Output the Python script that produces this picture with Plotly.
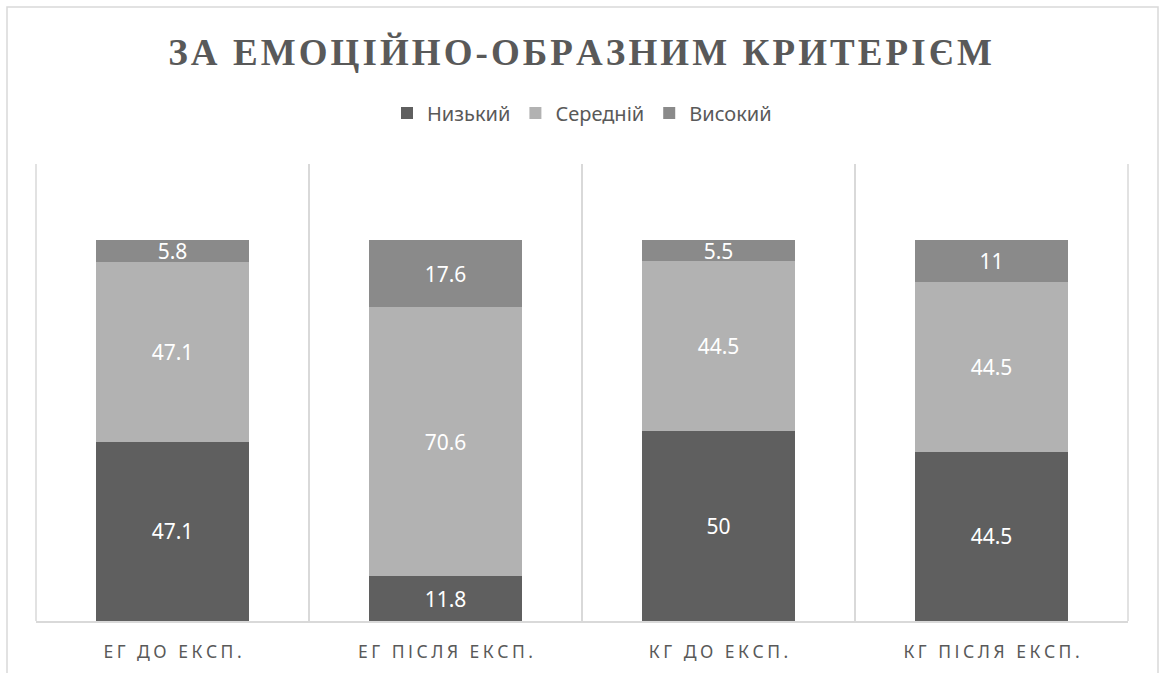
import plotly.graph_objects as go

categories = ["ЕГ ДО ЕКСП.", "ЕГ ПІСЛЯ ЕКСП.", "КГ ДО ЕКСП.", "КГ ПІСЛЯ ЕКСП."]
series_names = ["Низький", "Середній", "Високий"]
low = [47.1, 11.8, 50, 44.5]
mid = [47.1, 70.6, 44.5, 44.5]
high = [5.8, 17.6, 5.5, 11]
title_text = "ЗА ЕМОЦІЙНО-ОБРАЗНИМ КРИТЕРІЄМ"

colors = ["#5f5f5f", "#b2b2b2", "#8a8a8a"]
GRID = "#d9d9d9"

HS = "\u200a"  # hair space for letter spacing


def spaced(s, sep=HS):
    return sep.join(list(s))


W, H = 1160, 673
L, R, T, B = 36, 1160 - 1128, 164, 673 - 621
pw, ph = W - L - R, H - T - B

fig = go.Figure()
for name, vals, col in zip(series_names, [low, mid, high], colors):
    fig.add_trace(go.Bar(
        name=name,
        x=categories,
        y=vals,
        marker=dict(color=col, line=dict(width=0)),
        text=[f"{v:g}" for v in vals],
        textposition="inside",
        insidetextanchor="middle",
        textfont=dict(color="white", size=21, family="Noto Sans"),
        hoverinfo="skip",
    ))

fig.update_layout(
    width=W, height=H,
    barmode="stack",
    bargap=0.44,
    margin=dict(l=L, r=R, t=T, b=B, autoexpand=False),
    paper_bgcolor="white",
    plot_bgcolor="white",
    uniformtext=dict(minsize=21, mode="show"),
    title=dict(
        text="<b>" + spaced(title_text, HS) + "</b>",
        x=0.5, xanchor="center",
        y=1 - 52 / H, yanchor="middle", yref="container",
        font=dict(family="Liberation Serif", size=37, color="#595959"),
    ),
    legend=dict(
        orientation="h",
        x=0.5, xanchor="center",
        y=(621 - 113) / ph, yanchor="middle",
        font=dict(family="Noto Sans", size=20, color="#595959"),
        itemclick=False,
        traceorder="normal",
    ),
    showlegend=True,
    xaxis=dict(
        type="category",
        tickson="boundaries",
        showgrid=True,
        gridcolor=GRID,
        gridwidth=1.5,
        showline=True,
        linecolor=GRID,
        linewidth=2,
        ticks="",
        tickvals=categories,
        ticktext=[spaced(c, HS + HS) for c in categories],
        tickfont=dict(family="Noto Sans", size=17.5, color="#595959"),
        ticklabelstandoff=14,
        automargin=False,
        range=[-0.5, 3.5],
        fixedrange=True,
    ),
    yaxis=dict(
        range=[0, 120],
        showgrid=False,
        showline=False,
        zeroline=False,
        showticklabels=False,
        automargin=False,
        fixedrange=True,
    ),
)

# outer category boundary gridlines (left and right edges of the plot area)
for xp in (0, 1):
    fig.add_shape(
        type="line", xref="paper", yref="paper",
        x0=xp, x1=xp, y0=0, y1=1,
        line=dict(color=GRID, width=1.5),
        layer="below",
    )

# chart-area border
fig.add_shape(
    type="rect", xref="paper", yref="paper",
    x0=(7 - L) / pw, x1=(1158 - L) / pw,
    y0=(621 - 690) / ph, y1=(621 - 7) / ph,
    line=dict(color=GRID, width=1.5),
    fillcolor="rgba(0,0,0,0)",
    layer="below",
)

fig.write_html(
    "out.html",
    config={"displayModeBar": False, "staticPlot": True},
    post_script="document.body.style.margin='0';document.body.style.overflow='hidden';",
)
